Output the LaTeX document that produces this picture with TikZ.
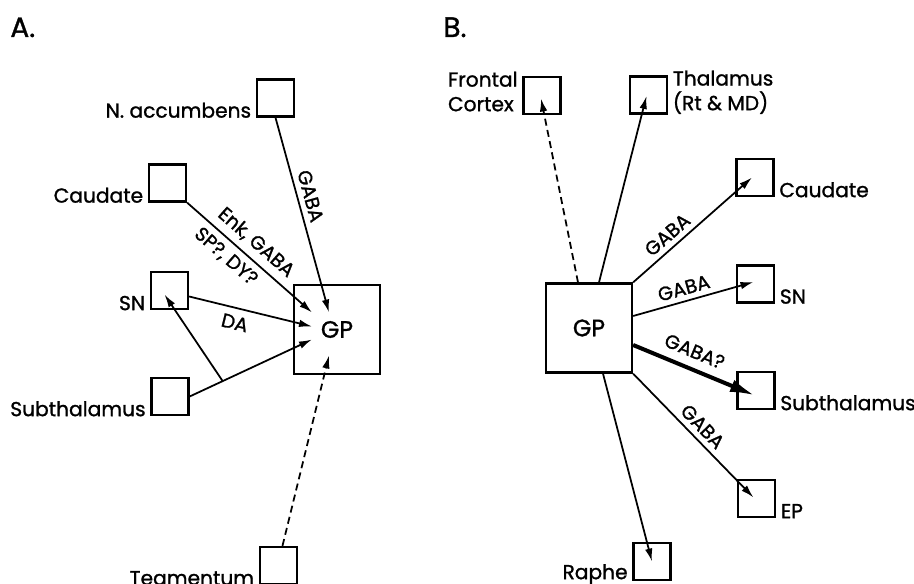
\documentclass[tikz,border=0pt]{standalone}
\usepackage{fontspec}
\setmainfont{Poppins}[FakeBold=1.2]
\usetikzlibrary{arrows.meta,positioning,calc}

\begin{document}
\begin{tikzpicture}[
  x=0.02cm, y=-0.02cm,
  font=\fontsize{11.5}{14}\selectfont,
  box/.style={draw, line width=1.3pt, minimum size=0.74cm, inner sep=0pt},
  gp/.style={draw, line width=1.3pt, minimum width=1.72cm, minimum height=1.78cm, inner sep=0pt, font=\fontsize{13.5}{16}\selectfont},
  txt/.style={inner sep=2.5pt},
  tag/.style={font=\fontsize{16}{20}\selectfont, anchor=base west, inner sep=0pt},
  lbl/.style={sloped, font=\fontsize{11}{13}\selectfont, inner sep=2pt},
  arrow/.style={-{Latex[length=2.6mm,width=1.5mm]}, line width=1pt},
  dasharrow/.style={arrow, dash pattern=on 4pt off 2.5pt},
  heavyarrow/.style={-{Latex[length=5mm,width=2.6mm]}, line width=2.3pt}
]
\useasboundingbox (0,0) rectangle (914,584);

% ------------------------------------------------------------------
% Panel A: afferents of GP
% ------------------------------------------------------------------
\node[tag] (tagA) at (10,37) {A.};

\node[box] (acc) at (275.5,98) {};
\node[txt, anchor=base east] (accT) at (acc.south west) {N. accumbens};
\node[box] (caudA) at (167.5,183) {};
\node[txt, anchor=base east] (caudAT) at (caudA.south west) {Caudate};
\node[box] (snA) at (169.5,290.5) {};
\node[txt, anchor=base east] (snAT) at (snA.south west) {SN};
\node[box] (sthA) at (170,396.5) {};
\node[txt, anchor=base east] (sthAT) at (sthA.south west) {Subthalamus};
\node[box] (teg) at (278.5,565.5) {};
\node[txt, anchor=base east] (tegT) at (teg.south west) {Tegmentum};
\node[gp] (gpA) at (337,329.5) {GP};

\coordinate (tAcc) at ($(gpA.center)+(-8,-17)$);
\coordinate (tCaud) at ($(gpA.center)+(-25,-17)$);
\coordinate (tSn) at ($(gpA.center)+(-25,-3)$);
\coordinate (tSth) at ($(gpA.center)+(-25,10)$);
\coordinate (tTeg) at ($(gpA.center)+(-8,26)$);
\coordinate (tBack) at ($(snA.center)+(-5,4)$);

\draw[arrow] (acc.south) -- (tAcc) node[lbl, pos=0.42, above=1pt] {GABA};
\draw[arrow] (caudA.south east) -- (tCaud)
  node[lbl, pos=0.47, above=1.5pt] {Enk, GABA}
  node[lbl, pos=0.39, below=1.5pt] {SP?, DY?};
\draw[arrow] ($(snA.east)+(0,6)$) -- (tSn) node[lbl, pos=0.4, below=2pt] {DA};
\draw[arrow] (sthA.east) -- (tSth) coordinate[pos=0.27] (fork);
\draw[arrow] (fork) -- (tBack);
\draw[dasharrow] ($(teg.north)+(4,0)$) -- (tTeg);

% ------------------------------------------------------------------
% Panel B: efferents of GP
% ------------------------------------------------------------------
\node[tag] (tagB) at (443,37) {B.};

\node[gp] (gpB) at (589,328) {GP};
\node[box] (front) at (542,95.5) {};
\node[txt, anchor=south east, align=left] (frontT) at ($(front.south west)+(0,1)$) {Frontal\\Cortex};
\node[box] (thal) at (648.5,95) {};
\node[txt, anchor=south west, align=left] (thalT) at ($(thal.south east)+(0,4)$) {Thalamus\\(Rt \& MD)};
\node[box] (caudB) at (755,177.5) {};
\node[txt, anchor=base west] (caudBT) at (caudB.south east) {Caudate};
\node[box] (snB) at (755.5,284) {};
\node[txt, anchor=base west] (snBT) at (snB.south east) {SN};
\node[box] (sthB) at (756,390.5) {};
\node[txt, anchor=base west] (sthBT) at (sthB.south east) {Subthalamus};
\node[box] (ep) at (756.5,498.5) {};
\node[txt, anchor=base west] (epT) at (ep.south east) {EP};
\node[box] (raphe) at (652,561.5) {};
\node[txt, anchor=base east] (rapheT) at ($(raphe.south west)+(0,-2)$) {Raphe};

\draw[dasharrow] ($(gpB.north)+(-11,0)$) -- ($(front.center)+(-1,3)$);
\draw[arrow] ($(gpB.north)+(10,0)$) -- ($(thal.center)+(-2,1)$);
\draw[arrow] (gpB.north east) -- ($(caudB.center)+(-3,0)$) node[lbl, pos=0.36, above=1pt] {GABA};
\draw[arrow] ($(gpB.east)+(0,-12)$) -- ($(snB.center)+(-2,-2)$) node[lbl, pos=0.45, above=1pt] {GABA};
\draw[heavyarrow] ($(gpB.east)+(0,17)$) -- ($(sthB.center)+(-1,5)$) node[lbl, pos=0.45, above=3pt] {GABA?};
\draw[arrow] (gpB.south east) -- ($(ep.center)+(-3,-1)$) node[lbl, pos=0.5, above=1pt] {GABA};
\draw[arrow] ($(gpB.south)+(14,0)$) -- (raphe.center);

\end{tikzpicture}
\end{document}
